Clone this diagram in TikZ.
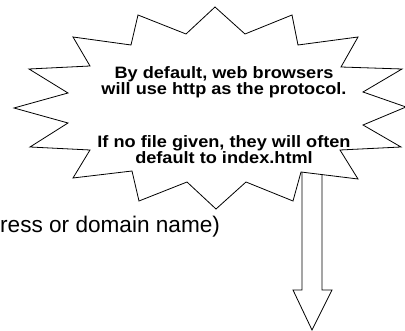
\documentclass[tikz,border=0pt]{standalone}
\usepackage{fontspec}
\setmainfont{Liberation Sans}
\newfontfamily\burstfont[FakeStretch=1.1]{Liberation Sans}
\usepackage{tikz}
\usetikzlibrary{positioning}

\begin{document}
\begin{tikzpicture}[
    x=1pt, y=-1pt,
    outline/.style={draw=black, fill=white, line width=0.8pt, line join=miter},
    note/.style={inner sep=0pt, align=center, font=\burstfont\bfseries\fontsize{16.5}{16}\selectfont},
    plain/.style={inner sep=0pt, font=\fontsize{22.6}{26}\selectfont}
]
\useasboundingbox (0,0) rectangle (405,331);

% Down arrow (behind the burst)
\draw[outline] (302,165) -- (302,290) -- (293,290) -- (312,330) -- (332,290) -- (322,290) -- (322,165);

% Burst
\draw[outline] (215,7) -- (245,34) -- (292,15) -- (298,45) -- (358,37) -- (341,67)
    -- (402,69) -- (363,92) -- (406,107) -- (363,125) -- (401,147) -- (340,150)
    -- (358,179) -- (301,172) -- (293,201) -- (246,182) -- (216,209) -- (187,182)
    -- (139,201) -- (132,171) -- (73,178) -- (90,150) -- (30,147) -- (68,123)
    -- (14,108) -- (68,93) -- (29,69) -- (90,66) -- (73,37) -- (131,45)
    -- (138,15) -- (186,34) -- cycle;

% Burst text
\node[note, anchor=north] (tip) at (224,66) {By default, web browsers\\will use http as the protocol.\\[37pt]If no file given, they will often\\default to index.html};

% Cut-off text on the left
\node[plain, anchor=base west] (addr) at (0,233) {ress or domain name)};

\end{tikzpicture}
\end{document}
